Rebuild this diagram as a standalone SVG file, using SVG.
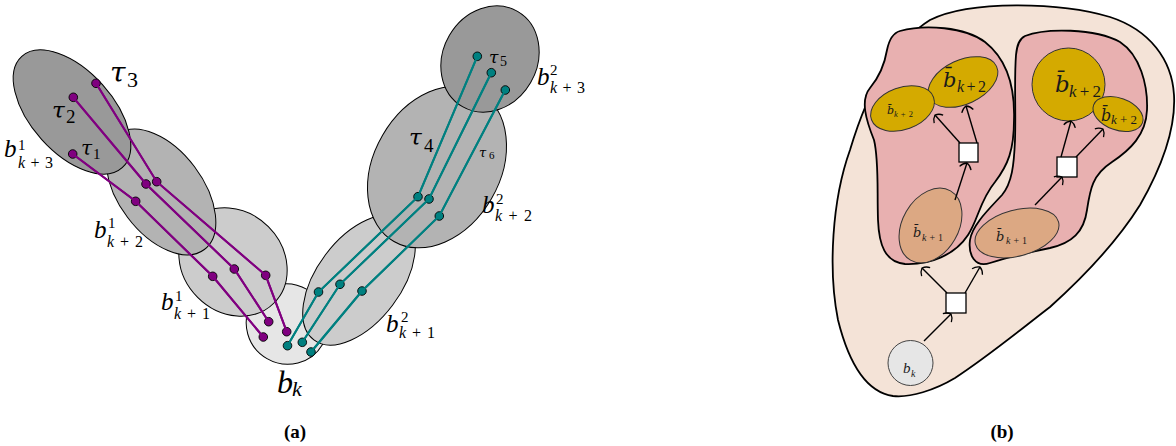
<svg xmlns="http://www.w3.org/2000/svg" width="1176" height="446" viewBox="0 0 1176 446">
<style>
.e{stroke:#000;stroke-width:1}
.g1{fill:#999999}.g2{fill:#b3b3b3}.g3{fill:#cccccc}.g4{fill:#e6e6e6}
.pl{fill:none;stroke:#800080;stroke-width:2}
.tl{fill:none;stroke:#008080;stroke-width:2}
.pd{fill:#800080;stroke:#000;stroke-width:0.9}
.td{fill:#008080;stroke:#000;stroke-width:0.9}
.m{font-family:"Liberation Serif",serif;font-style:italic;fill:#000}
.t{font-family:"DejaVu Serif",serif;font-style:italic;fill:#000}
.n{font-family:"Liberation Serif",serif;fill:#000}
.mb{font-family:"Liberation Serif",serif;font-style:italic;fill:#1a1a1a}
.bb{font-family:"DejaVu Serif",serif;font-style:italic;fill:#1a1a1a}
.cap{font-family:"Liberation Serif",serif;font-weight:bold;font-size:19px;text-anchor:middle}
.out{fill:#f4e3d7;stroke:#000;stroke-width:1.8}
.pink{fill:#e8b0b0;stroke:#000;stroke-width:1.8}
.gold{fill:#d4aa00;stroke:#333;stroke-width:1}
.ora{fill:#dca883;stroke:#333;stroke-width:1}
.sq{fill:#fff;stroke:#000;stroke-width:1.3}
.ar{fill:none;stroke:#000;stroke-width:1.4;marker-end:url(#to)}
</style>
<defs>
<marker id="to" viewBox="-10 -10 20 20" markerWidth="20" markerHeight="20" markerUnits="userSpaceOnUse" refX="0" refY="0" orient="auto" overflow="visible">
<path d="M-5.5,-6 Q-1.5,-4 0,0 Q-1.5,4 -5.5,6" fill="none" stroke="#000" stroke-width="1.3"/>
</marker>
</defs>
<rect width="1176" height="446" fill="#fff"/>

<!-- Panel (a) -->
<g id="bk"><ellipse class="e g4" cx="287" cy="324" rx="41" ry="40" transform="rotate(30 287 324)"/></g>
<g id="b1k1"><ellipse class="e g3" cx="233" cy="262" rx="58" ry="50" transform="rotate(45 233 262)"/></g>
<g id="b2k1"><ellipse class="e g3" cx="359" cy="280" rx="75" ry="42" transform="rotate(-53 359 280)"/></g>
<g id="b1k2"><ellipse class="e g2" cx="161" cy="192" rx="72" ry="42" transform="rotate(53 161 192)"/></g>
<g id="b2k2"><ellipse class="e g2" cx="437" cy="167" rx="86" ry="63" transform="rotate(-60 437 167)"/></g>
<g id="b1k3"><ellipse class="e g1" cx="72" cy="112" rx="75" ry="41" transform="rotate(48 72 112)"/></g>
<g id="b2k3"><ellipse class="e g1" cx="490" cy="59" rx="55" ry="47" transform="rotate(-60 490 59)"/></g>

<g id="connectors">
<polyline class="pl" points="72.7,154 135.7,201.3 212.7,276.3 263.3,337"/>
<polyline class="pl" points="73.3,97.3 146,184 234.3,269 268.7,321.7"/>
<polyline class="pl" points="96,83.3 156.7,181.7 265.7,275.3 286.7,331.7"/>
<polyline class="tl" points="287.5,345.7 318.5,292 418,196.7 477.3,56.3"/>
<polyline class="tl" points="302.3,342.3 340,284.3 429,199 491.3,72.7"/>
<polyline class="tl" points="311,352 362,291 439.3,216 505.3,90"/>
<line class="ar" x1="924" y1="341" x2="951" y2="314"/>
<line class="ar" x1="947" y1="293" x2="922" y2="268"/>
<line class="ar" x1="965" y1="293" x2="980" y2="267"/>
<line class="ar" x1="955" y1="200" x2="967" y2="163"/>
<line class="ar" x1="960" y1="143" x2="935" y2="115"/>
<line class="ar" x1="977" y1="143" x2="966" y2="106"/>
<line class="ar" x1="1035" y1="205" x2="1062" y2="177"/>
<line class="ar" x1="1061" y1="157" x2="1071" y2="121"/>
<line class="ar" x1="1076" y1="157" x2="1103" y2="129"/>
</g>

<g id="points">
<circle class="pd" cx="72.7" cy="154" r="4.3"/><circle class="pd" cx="135.7" cy="201.3" r="4.3"/><circle class="pd" cx="212.7" cy="276.3" r="4.3"/><circle class="pd" cx="263.3" cy="337" r="4.3"/>
<circle class="pd" cx="73.3" cy="97.3" r="4.3"/><circle class="pd" cx="146" cy="184" r="4.3"/><circle class="pd" cx="234.3" cy="269" r="4.3"/><circle class="pd" cx="268.7" cy="321.7" r="4.3"/>
<circle class="pd" cx="96" cy="83.3" r="4.3"/><circle class="pd" cx="156.7" cy="181.7" r="4.3"/><circle class="pd" cx="265.7" cy="275.3" r="4.3"/><circle class="pd" cx="286.7" cy="331.7" r="4.3"/>
<circle class="td" cx="287.5" cy="345.7" r="4.3"/><circle class="td" cx="318.5" cy="292" r="4.3"/><circle class="td" cx="418" cy="196.7" r="4.3"/><circle class="td" cx="477.3" cy="56.3" r="4.3"/>
<circle class="td" cx="302.3" cy="342.3" r="4.3"/><circle class="td" cx="340" cy="284.3" r="4.3"/><circle class="td" cx="429" cy="199" r="4.3"/><circle class="td" cx="491.3" cy="72.7" r="4.3"/>
<circle class="td" cx="311" cy="352" r="4.3"/><circle class="td" cx="362" cy="291" r="4.3"/><circle class="td" cx="439.3" cy="216" r="4.3"/><circle class="td" cx="505.3" cy="90" r="4.3"/>
</g>

<g id="labels-a">
<text class="t" x="110" y="82" font-size="28">τ</text><text class="n" x="127" y="87" font-size="22">3</text>
<text class="t" x="52" y="118" font-size="23">τ</text><text class="n" x="66" y="123" font-size="19">2</text>
<text class="t" x="81" y="155" font-size="20">τ</text><text class="n" x="93" y="159" font-size="15">1</text>
<text class="t" x="409" y="145" font-size="23">τ</text><text class="n" x="424" y="152" font-size="19">4</text>
<text class="t" x="489" y="63" font-size="17">τ</text><text class="n" x="500" y="66" font-size="14">5</text>
<text class="t" x="479" y="157" font-size="13">τ</text><text class="n" x="489" y="159" font-size="11">6</text>

<text class="m" x="4" y="157" font-size="25">b</text><text class="n" x="18" y="150" font-size="15">1</text><text class="m" x="18" y="168" font-size="16" textLength="35" lengthAdjust="spacing">k<tspan font-style="normal">+3</tspan></text>
<text class="m" x="94" y="238" font-size="25">b</text><text class="n" x="108" y="228" font-size="15">1</text><text class="m" x="107" y="247" font-size="16" textLength="36" lengthAdjust="spacing">k<tspan font-style="normal">+2</tspan></text>
<text class="m" x="161" y="310" font-size="25">b</text><text class="n" x="175" y="301" font-size="15">1</text><text class="m" x="174" y="319" font-size="16" textLength="36" lengthAdjust="spacing">k<tspan font-style="normal">+1</tspan></text>
<text class="m" x="277" y="393" font-size="32">b</text><text class="m" x="292" y="396" font-size="22">k</text>
<text class="m" x="386" y="332" font-size="25">b</text><text class="n" x="401" y="322" font-size="15">2</text><text class="m" x="399" y="338" font-size="16" textLength="36" lengthAdjust="spacing">k<tspan font-style="normal">+1</tspan></text>
<text class="m" x="482" y="213" font-size="25">b</text><text class="n" x="496" y="204" font-size="15">2</text><text class="m" x="495" y="221" font-size="16" textLength="37" lengthAdjust="spacing">k<tspan font-style="normal">+2</tspan></text>
<text class="m" x="537" y="85" font-size="25">b</text><text class="n" x="550" y="75" font-size="15">2</text><text class="m" x="550" y="93" font-size="16" textLength="35" lengthAdjust="spacing">k<tspan font-style="normal">+3</tspan></text>
</g>
<text class="cap" x="295" y="438">(a)</text>

<!-- Panel (b) -->
<g id="outer"><path class="out" d="M893,396 C865,392 848,360 838,320 C828,270 832,200 850,150 C865,100 890,45 930,20 C970,0 1060,2 1110,17 C1150,30 1172,60 1174,95 C1176,130 1160,170 1140,205 C1115,245 1080,280 1050,307 C1020,330 990,355 955,378 C935,390 910,398 893,396 Z"/></g>
<g id="pink-left"><path class="pink" d="M900,31 C925,24 965,27 985,42 C1008,60 1015,90 1014,120 C1014,150 1008,165 995,182 C980,200 978,220 968,235 C955,255 930,265 905,264 C885,262 879,245 878,220 C877,190 879,160 874,140 C866,120 860,100 870,88 C880,76 885,62 887,50 C889,40 893,33 900,31 Z"/></g>
<g id="pink-right"><path class="pink" d="M1025,36 C1045,28 1095,28 1120,42 C1140,55 1148,85 1147,110 C1146,135 1130,150 1112,162 C1092,175 1090,190 1087,210 C1084,232 1072,243 1050,248 C1030,252 1005,258 990,263 C975,268 968,255 970,240 C972,225 990,208 1002,195 C1012,183 1014,165 1015,140 C1016,110 1014,80 1016,55 C1017,45 1019,39 1025,36 Z"/></g>

<g id="gold-upper"><ellipse class="gold" cx="963" cy="82" rx="37" ry="22" transform="rotate(-25 963 82)"/>
<text class="bb" x="943" y="87" font-size="21">b̄</text><text class="mb" x="957" y="92" font-size="16" textLength="29" lengthAdjust="spacing">k<tspan font-style="normal">+2</tspan></text></g>
<g id="gold-left"><ellipse class="gold" cx="902.5" cy="108.5" rx="33" ry="21" transform="rotate(-20 902.5 108.5)"/>
<text class="bb" x="887" y="114" font-size="11">b̄</text><text class="mb" x="894" y="117" font-size="8.5" textLength="19" lengthAdjust="spacing">k<tspan font-style="normal">+2</tspan></text></g>
<g id="gold-big"><circle class="gold" cx="1068.5" cy="84.5" r="36.5"/>
<text class="bb" x="1055" y="92" font-size="23">b̄</text><text class="mb" x="1069" y="97" font-size="17" textLength="32" lengthAdjust="spacing">k<tspan font-style="normal">+2</tspan></text></g>
<g id="gold-small"><ellipse class="gold" cx="1118" cy="114" rx="26" ry="16" transform="rotate(20 1118 114)"/>
<text class="bb" x="1101" y="121" font-size="16">b̄</text><text class="mb" x="1111" y="124" font-size="13" textLength="26" lengthAdjust="spacing">k<tspan font-style="normal">+2</tspan></text></g>
<g id="orange-left"><ellipse class="ora" cx="930.5" cy="225.5" rx="40" ry="28" transform="rotate(-60 930.5 225.5)"/>
<text class="bb" x="913" y="237" font-size="13">b̄</text><text class="mb" x="922" y="241" font-size="10" textLength="21" lengthAdjust="spacing">k<tspan font-style="normal">+1</tspan></text></g>
<g id="orange-right"><ellipse class="ora" cx="1017" cy="233" rx="43" ry="23" transform="rotate(-15 1017 233)"/>
<text class="bb" x="996" y="241" font-size="13">b̄</text><text class="mb" x="1006" y="244" font-size="10" textLength="21" lengthAdjust="spacing">k<tspan font-style="normal">+1</tspan></text></g>
<g id="sq-left"><rect class="sq" x="959" y="143" width="19" height="19"/></g>
<g id="sq-right"><rect class="sq" x="1057" y="157" width="20" height="20"/></g>
<g id="sq-bottom"><rect class="sq" x="946" y="293" width="20" height="20"/></g>
<g id="bk-node"><circle cx="910.5" cy="363" r="22.5" fill="#e6e6e6" stroke="#444" stroke-width="1"/>
<text class="mb" x="903" y="373" font-size="15">b</text><text class="mb" x="911" y="377" font-size="10">k</text></g>
<use href="#connectors"/>
<text class="cap" x="1002" y="438">(b)</text>
</svg>
